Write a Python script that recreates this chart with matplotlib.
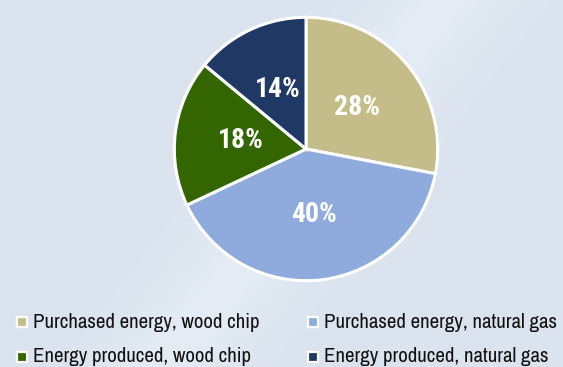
import numpy as np
import matplotlib
matplotlib.use("Agg")
import matplotlib.pyplot as plt
from matplotlib.lines import Line2D

# -------------------- data --------------------
labels = ["Purchased energy, wood chip", "Purchased energy, natural gas",
          "Energy produced, wood chip", "Energy produced, natural gas"]
shares = [28, 40, 18, 14]
colors = ["#c4bd8a", "#8faadc", "#336600", "#1f3864"]

legend_font = ["Archivo Narrow", "Roboto Condensed", "DejaVu Sans"]
label_font = ["Roboto Condensed", "DejaVu Sans"]

fig = plt.figure(figsize=(5.63, 3.67), dpi=100)
fig.patch.set_facecolor("#dde4ee")

# soft background gradient with a lighter diagonal band
bg = fig.add_axes([0, 0, 1, 1], zorder=-10)
yy, xx = np.mgrid[0:1:200j, 0:1:300j]
band = np.exp(-((xx * 1.2 - (1 - yy) * 0.6 - 0.35) ** 2) / 0.02)
base = np.array([0.860, 0.893, 0.935])
light = np.array([0.895, 0.925, 0.960])
img = base + (light - base) * band[..., None]
bg.imshow(img, extent=[0, 1, 0, 1], aspect="auto")
bg.set_xlim(0, 1)
bg.set_ylim(0, 1)
bg.axis("off")

# -------------------- pie --------------------
ax = fig.add_axes([0.3073, 0.2316, 0.4725, 0.7248])
wedges, texts, autotexts = ax.pie(
    shares, colors=colors, startangle=90, counterclock=False,
    autopct="%d%%", pctdistance=0.5, radius=1,
    wedgeprops=dict(edgecolor="white", linewidth=2.2))
for t in autotexts:
    t.set_color("white")
    t.set_fontsize(20)
    t.set_fontweight("bold")
    t.set_family(label_font)
ax.set_xlim(-1.01, 1.01)
ax.set_ylim(-1.01, 1.01)
ax.set_aspect("equal")

# -------------------- legend (2 columns, placed by hand) --------------------
col_x = [22 / 563, 313 / 563]
row_y = [1 - 322 / 367, 1 - 357 / 367]
for i, (lab, c) in enumerate(zip(labels, colors)):
    x = col_x[i % 2]
    y = row_y[i // 2]
    bg.add_line(Line2D([x], [y], marker="s", linestyle="none", markersize=7.5,
                       markerfacecolor=c, markeredgecolor="white",
                       markeredgewidth=1.6))
    fig.text(x + 11 / 563, y, lab, ha="left", va="center", fontsize=15,
             family=legend_font, color="#111111")

fig.savefig("out.png", dpi=100, facecolor=fig.get_facecolor())
